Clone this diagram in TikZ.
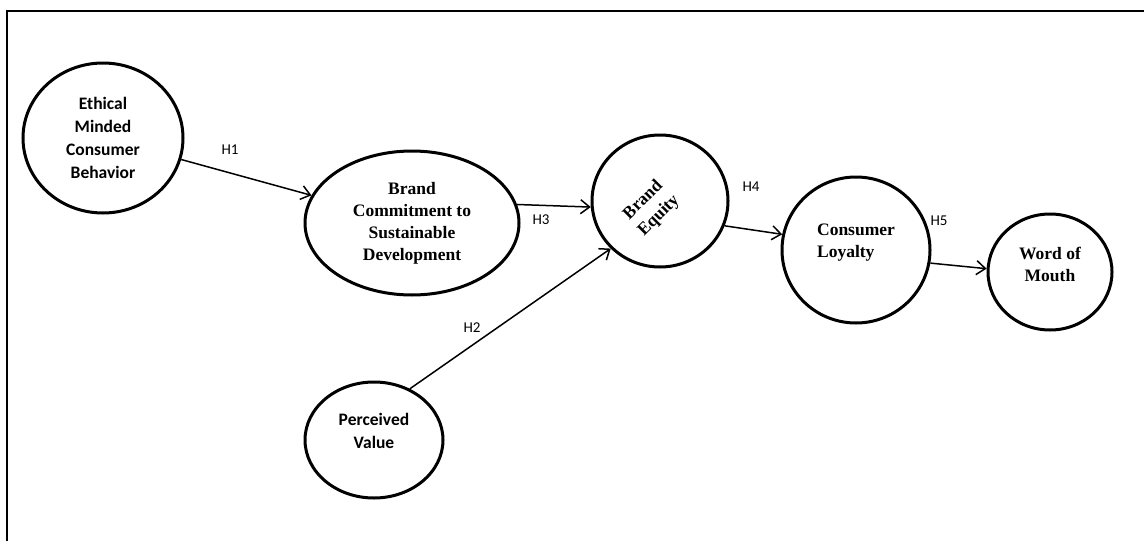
\documentclass[tikz,border=0pt]{standalone}
\usepackage{fontspec}
\usepackage{graphicx}
\setmainfont{Liberation Serif}
\newfontfamily\calibri{Carlito}
\usetikzlibrary{shapes.geometric,arrows.meta}

\begin{document}
\begin{tikzpicture}[x=1pt,y=1pt,
	construct/.style={ellipse, draw, line width=3pt, inner sep=0pt, align=center},
	sanstext/.style={font=\calibri\bfseries\fontsize{17.5}{23}\selectfont},
	seriftext/.style={font=\bfseries\fontsize{17.5}{22}\selectfont},
	hyp/.style={font=\calibri\fontsize{15}{17}\selectfont, inner sep=0pt},
	link/.style={line width=1.5pt, -{Straight Barb[length=9pt,width=14pt,line width=1.5pt]}}]
	\useasboundingbox (0,0) rectangle (1144,-541);
	\draw[line width=2pt] (7,-541) -- (7,-11) -- (1144,-11);
	\node (EMCB) at ( 103, -138)	[construct, sanstext, minimum width=160, minimum height=150]	{Ethical\\Minded\\Consumer\\Behavior};
	\node (BCSD) at ( 412, -223)	[construct, seriftext, minimum width=214, minimum height=144]	{Brand\\Commitment to\\Sustainable\\Development};
	\node (BE)   at ( 660, -201)	[construct, seriftext, minimum width=136, minimum height=132]	{\raisebox{-28pt}[0pt][0pt]{\rotatebox{45}{\begin{tabular}{@{}c@{}}Brand\\Equity\end{tabular}}}\hspace*{18pt}};
	\node (CL)   at ( 856, -250)	[construct, seriftext, minimum width=148, minimum height=146, align=left]	{Consumer\\Loyalty\\[-4pt]\mbox{}};
	\node (WOM)  at (1050, -272)	[construct, seriftext, minimum width=124, minimum height=116]	{Word of\\Mouth\\[-6pt]\mbox{}};
	\node (PV)   at ( 374, -440)	[construct, sanstext, minimum width=138, minimum height=116]	{Perceived\\Value\\[-4pt]\mbox{}};
	\node (h1) at (230, -150)	[hyp]	{H1};
	\node (h2) at (472, -328)	[hyp]	{H2};
	\node (h3) at (541, -220)	[hyp]	{H3};
	\node (h4) at (751, -187)	[hyp]	{H4};
	\node (h5) at (939, -221)	[hyp]	{H5};
	\draw[link] (EMCB) -- (BCSD);
	\draw[link] (BCSD.10) -- (BE.185);
	\draw[link] (PV.55) -- (BE.224);
	\draw[link] (BE.-21) -- (CL.168);
	\draw[link] (CL.-10) -- (WOM.177);
\end{tikzpicture}
\end{document}
